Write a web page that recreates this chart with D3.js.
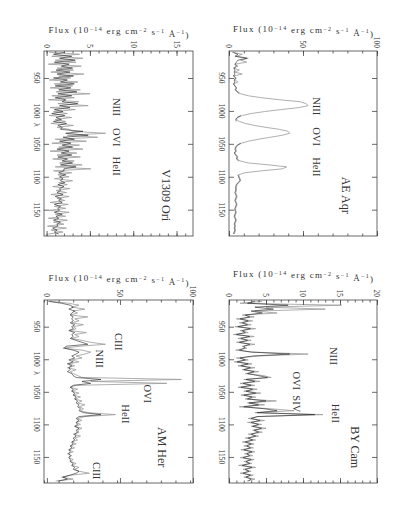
<!DOCTYPE html>
<html>
<head>
<meta charset="utf-8">
<script src="https://cdn.jsdelivr.net/npm/d3@7"></script>
<style>
  body { margin: 0; background: #fff; }
  text { font-family: "Liberation Serif", "DejaVu Serif", serif; fill: #333; }
  .frame { fill: none; stroke: #444; stroke-width: 0.8; }
  .axis path { display: none; }
  .axis line { stroke: #444; stroke-width: 0.8; }
  .gray { fill: none; stroke: #9a9a9a; stroke-width: 0.8; }
  .black { fill: none; stroke: #222; stroke-width: 0.6; }
</style>
</head>
<body>
<script>
//wavelength grid shared by all four spectra (Angstrom)
var wavelength = [
  911, 914, 917, 920, 923, 926, 929, 932, 935, 938,
  941, 944, 947, 950, 953, 956, 959, 962, 965, 968,
  971, 974, 977, 980, 983, 986, 989, 992, 995, 998,
  1001, 1004, 1007, 1010, 1013, 1016, 1019, 1022, 1025, 1028,
  1031, 1034, 1037, 1040, 1043, 1046, 1049, 1052, 1055, 1058,
  1061, 1064, 1067, 1070, 1073, 1076, 1079, 1082, 1085, 1088,
  1091, 1094, 1097, 1100, 1103, 1106, 1109, 1112, 1115, 1118,
  1121, 1124, 1127, 1130, 1133, 1136, 1139, 1142, 1145, 1148,
  1151, 1154, 1157, 1160, 1163, 1166, 1169, 1172, 1175, 1178,
  1181, 1184, 1187];

//V1309 Ori fluxes (10^-14 erg cm^-2 s^-1 A^-1)
var v1309Gray = [
  0.3, 3.8, 0.6, 4.2, 1.0, 3.4, 0.2, 4.0, 1.2, 3.1,
  0.5, 4.3, 1.4, 2.8, 0.3, 3.6, 0.9, 3.0, 0.4, 3.9,
  1.1, 5.0, 0.6, 3.2, 0.2, 3.7, 1.3, 4.8, 0.4, 3.3,
  0.8, 2.4, 0.3, 2.9, 1.0, 2.2, 0.5, 3.1, 1.2, 2.6,
  3.0, 6.8, 2.4, 5.9, 1.0, 4.6, 0.6, 3.8, 1.4, 4.2,
  0.4, 3.5, 1.2, 3.9, 0.7, 3.2, 1.5, 4.1, 1.0, 5.1,
  0.8, 2.9, 1.3, 2.6, 0.9, 3.0, 1.4, 2.4, 0.7, 2.7,
  1.1, 2.3, 0.5, 2.6, 1.2, 2.1, 0.4, 2.5, 0.9, 2.2,
  0.3, 2.6, 1.0, 2.2, 0.2, 2.4, 0.8, 2.0, 0.1, 2.3,
  0.5, 1.9, 0.2];
var v1309Black = [
  2.1, 0.8, 2.9, 1.5, 3.3, 0.9, 2.6, 1.7, 3.0, 1.1,
  2.7, 1.2, 3.1, 0.8, 2.4, 1.6, 3.2, 1.0, 2.8, 1.4,
  3.5, 1.3, 2.9, 1.0, 2.2, 1.8, 3.6, 1.5, 2.7, 0.9,
  1.9, 0.6, 2.1, 1.1, 1.7, 0.8, 2.3, 1.3, 1.8, 1.6,
  4.2, 2.2, 4.8, 1.9, 3.2, 1.5, 2.8, 1.8, 3.0, 1.2,
  2.6, 1.7, 2.9, 1.3, 2.4, 1.8, 3.0, 1.6, 3.4, 2.0,
  2.0, 1.4, 2.2, 1.5, 1.9, 1.6, 2.1, 1.3, 2.0, 1.5,
  1.6, 1.2, 1.9, 1.0, 1.7, 1.4, 1.8, 0.9, 1.6, 1.3,
  1.5, 0.9, 1.8, 1.1, 1.4, 0.8, 1.6, 1.2, 1.3, 0.7,
  1.2, 0.9, 1.4];

//AE Aqr fluxes
var aeAqrGray = [
  2, 9, 5, 13, 8, 12, 4, 6, 3, 7,
  4, 9, 3, 5, 4, 6, 3, 4, 5, 4,
  6, 8, 13, 22, 34, 48, 52, 53.5, 47, 35,
  24, 15, 9, 6, 5, 7, 11, 17, 25, 34,
  40, 41, 36, 28, 20, 13, 8.5, 6, 5, 4.5,
  5, 4, 5, 6, 5.5, 7.5, 13, 27, 39, 36,
  22, 10.6, 6.5, 7, 7.5, 8, 6.5, 5.5, 5, 5,
  5, 4.5, 5, 5.5, 5, 4.5, 5, 5.5, 5, 4.5,
  4.5, 5, 4.5, 4, 4.5, 5, 4.5, 4, 4.5, 4,
  4.5, 4, 3.5];
var aeAqrBlack = [
  3, 6, 4, 12, 6, 5, 4, 5, 3.5, 4,
  3.5, 4, 3, 4.5, 3.5, 4, 3, 4, 5, 4.5,
  5.5, 7, null, null, null, null, null, null, null, null,
  null, null, 8, 5.5, 4.5, 5, null, null, null, null,
  null, null, null, null, null, null, 8, 5.5, 4.5, 4,
  4.5, 3.5, 4.5, 5.5, 5, 6.5, null, null, null, null,
  null, null, 6, 6.5, 7, 7.5, 6, 5, 4.5, 4.5,
  4.5, 4, 4.5, 5, 4.5, 4, 4.5, 5, 4.5, 4,
  4, 4.5, 4, 3.5, 4, 4.5, 4, 3.5, 4, 3.5,
  4, 3.5, 3];

//AM Her fluxes
var amHerGray = [
  2, 15, 22, 17, 26, 18, 21, 16, 28, 19,
  22, 17, 25, 18, 20, 16, 27, 19, 22, 17,
  24, 30, 40, 22, 11, 24, 30, 26, 20, 24,
  17, 22, 15, 19, 14, 20, 16, 18, 21, 24,
  92, 30, 82, 20, 16, 21, 17, 22, 18, 23,
  19, 24, 21, 26, 22, 25, 23, 28, 47, 26,
  21, 24, 20, 23, 19, 24, 21, 22, 18, 23,
  19, 21, 17, 20, 16, 19, 15, 18, 14, 17,
  15, 18, 16, 20, 17, 22, 19, 22, 29, 16,
  10, 18, 6];
var amHerBlack = [
  1, 10, 16, 18, 15, 19, 17, 16, 18, 17,
  18, 16, 19, 17, 18, 15, 19, 17, 18, 16,
  20, 24, 28, 13, 12, 18, 22, 20, 17, 19,
  15, 18, 14, 17, 15, 16, 14, 17, 18, 20,
  37, 24, 30, 18, 16, 18, 17, 19, 18, 20,
  19, 21, 20, 22, 21, 23, 22, 25, 37, 22,
  20, 22, 20, 21, 19, 22, 20, 21, 19, 20,
  18, 19, 17, 18, 16, 17, 15, 16, 15, 16,
  15, 16, 16, 18, 17, 19, 18, 22, 20, 16,
  11, 14, 8];

//BY Cam fluxes
var byCamGray = [
  4.5, 1.5, 15.2, 5.0, 13.0, 3.5, 6.5, 1.8, 3.4, 1.0,
  3.2, 1.4, 3.0, 0.8, 3.6, 1.5, 2.6, 0.6, 3.4, 1.2,
  3.0, 1.0, 3.5, 1.8, 2.4, 0.9, 3.2, 10.7, 4.0, 1.0,
  2.6, 0.7, 3.1, 1.2, 3.5, 1.8, 4.0, 2.2, 4.6, 5.7,
  2.0, 4.2, 1.5, 3.5, 1.2, 3.8, 2.0, 4.3, 1.6, 3.6,
  2.2, 6.4, 2.5, 4.8, 1.4, 5.6, 8.8, 3.5, 12.7, 4.0,
  2.6, 4.8, 2.5, 4.4, 3.0, 5.0, 3.2, 4.5, 2.6, 4.0,
  2.2, 3.6, 1.8, 3.4, 2.0, 3.3, 1.6, 3.5, 2.1, 3.2,
  1.5, 3.4, 2.0, 3.1, 1.3, 3.6, 1.9, 3.0, 1.5, 3.3,
  2.0, 3.5, 2.4];
var byCamBlack = [
  3.5, 2.5, 8.0, 3.5, 6.0, 3.0, 4.5, 2.2, 2.8, 1.5,
  2.6, 1.8, 2.5, 1.2, 2.9, 1.8, 2.2, 1.0, 2.8, 1.6,
  2.5, 1.4, 2.8, 2.0, 2.1, 1.4, 3.0, 8.2, 3.2, 1.5,
  2.2, 1.1, 2.6, 1.6, 2.9, 2.0, 3.4, 2.5, 3.9, 5.2,
  2.3, 3.5, 1.9, 3.0, 1.6, 3.2, 2.3, 3.6, 2.0, 3.1,
  2.5, 5.0, 2.7, 4.0, 2.0, 4.8, 6.5, 3.8, 11.6, 3.8,
  3.0, 4.2, 3.0, 4.0, 3.2, 4.4, 3.4, 4.0, 3.0, 3.6,
  2.6, 3.2, 2.2, 3.0, 2.4, 2.9, 2.0, 3.1, 2.4, 2.8,
  1.9, 3.0, 2.3, 2.8, 1.8, 3.1, 2.2, 2.7, 1.9, 2.9,
  2.3, 3.0, 2.6];

//tick labels
var waveTicks = [950, 1000, 1050, 1100, 1150];
var v1309Ticks = [0, 5, 10, 15];
var aeAqrTicks = [0, 50, 100];
var amHerTicks = [0, 50, 100];
var byCamTicks = [0, 5, 10, 15, 20];

//line identifications: text, wavelength, flux where the text sits
var v1309Lines = ["NIII", "OVI", "HeII"];
var v1309LineWave = [994, 1040, 1084];
var v1309LineFlux = [8.1, 8.1, 8.1];
var aeAqrLines = ["NIII", "OVI", "HeII"];
var aeAqrLineWave = [993, 1039, 1085];
var aeAqrLineFlux = [59.5, 59.5, 59.5];
var amHerLines = ["CIII", "NIII", "OVI", "HeII", "CIII"];
var amHerLineWave = [973, 999, 1053, 1084, 1171];
var amHerLineFlux = [49, 36, 69, 54, 34];
var byCamLines = ["NIII", "OVI  SIV", "HeII"];
var byCamLineWave = [995, 1050, 1083];
var byCamLineFlux = [14.1, 9.1, 14.4];

var width = 414, height = 514;
var svg = d3.select("body").append("svg")
  .attr("width", width)
  .attr("height", height);

var panels = [
  {name: "V1309 Ori", gray: v1309Gray, black: v1309Black, domain: [-0.3, 16.9], ticks: v1309Ticks, minor: 1,
   lines: v1309Lines, lineWave: v1309LineWave, lineFlux: v1309LineFlux, nameFlux: 13.8, nameWave: 1128,
   x0: 44, x1: 193, y0: 51, y1: 236, titleY: 33, lambda: true},
  {name: "AE Aqr", gray: aeAqrGray, black: aeAqrBlack, domain: [0, 100], ticks: aeAqrTicks, minor: 10,
   lines: aeAqrLines, lineWave: aeAqrLineWave, lineFlux: aeAqrLineFlux, nameFlux: 79, nameWave: 1128,
   x0: 229, x1: 377, y0: 51, y1: 236, titleY: 32, lambda: false},
  {name: "AM Her", gray: amHerGray, black: amHerBlack, domain: [-2, 100], ticks: amHerTicks, minor: 10,
   lines: amHerLines, lineWave: amHerLineWave, lineFlux: amHerLineFlux, nameFlux: 78.6, nameWave: 1135,
   x0: 44, x1: 193, y0: 300, y1: 483, titleY: 281, lambda: true},
  {name: "BY Cam", gray: byCamGray, black: byCamBlack, domain: [0, 20], ticks: byCamTicks, minor: 1,
   lines: byCamLines, lineWave: byCamLineWave, lineFlux: byCamLineFlux, nameFlux: 17.1, nameWave: 1135,
   x0: 229, x1: 377, y0: 300, y1: 483, titleY: 277, lambda: false}
];

panels.forEach(drawPanel);

//draws one spectrum panel (figure rotated: flux runs left to right, wavelength downward)
function drawPanel(p, n){
  var x = d3.scaleLinear().domain(p.domain).range([p.x0, p.x1]);
  var y = d3.scaleLinear().domain([909, 1190]).range([p.y0, p.y1]);
  var g = svg.append("g");

  g.append("clipPath").attr("id", "clip" + n)
    .append("rect")
    .attr("x", p.x0).attr("y", p.y0)
    .attr("width", p.x1 - p.x0).attr("height", p.y1 - p.y0);

  //spectra: gray first, black on top
  var line = d3.line()
    .defined(function(d){ return d[1] != null; })
    .x(function(d){ return x(d[1]); })
    .y(function(d){ return y(d[0]); });
  g.append("path").attr("class", "gray")
    .attr("clip-path", "url(#clip" + n + ")")
    .attr("d", line(d3.zip(wavelength, p.gray)));
  g.append("path").attr("class", "black")
    .attr("clip-path", "url(#clip" + n + ")")
    .attr("d", line(d3.zip(wavelength, p.black)));

  //frame
  g.append("rect").attr("class", "frame")
    .attr("x", p.x0).attr("y", p.y0)
    .attr("width", p.x1 - p.x0).attr("height", p.y1 - p.y0);

  //flux axes, ticks pointing inward on top and bottom
  var minors = d3.range(Math.ceil(p.domain[0]), p.domain[1] + 0.001, p.minor);
  g.append("g").attr("class", "axis").attr("transform", "translate(0," + p.y0 + ")")
    .call(d3.axisTop(x).tickValues(minors).tickSize(-2.5).tickFormat(""));
  g.append("g").attr("class", "axis").attr("transform", "translate(0," + p.y0 + ")")
    .call(d3.axisTop(x).tickValues(p.ticks).tickSize(-5).tickFormat(""));
  g.append("g").attr("class", "axis").attr("transform", "translate(0," + p.y1 + ")")
    .call(d3.axisBottom(x).tickValues(minors).tickSize(-2.5).tickFormat(""));
  g.append("g").attr("class", "axis").attr("transform", "translate(0," + p.y1 + ")")
    .call(d3.axisBottom(x).tickValues(p.ticks).tickSize(-5).tickFormat(""));

  //wavelength axes on both sides
  g.append("g").attr("class", "axis").attr("transform", "translate(" + p.x0 + ",0)")
    .call(d3.axisLeft(y).tickValues(waveTicks).tickSize(-5).tickFormat(""));
  g.append("g").attr("class", "axis").attr("transform", "translate(" + p.x1 + ",0)")
    .call(d3.axisRight(y).tickValues(waveTicks).tickSize(-5).tickFormat(""));

  //flux tick labels, rotated
  g.selectAll(".fluxLabel")
    .data(p.ticks)
    .enter()
    .append("text")
    .attr("class", "fluxLabel")
    .attr("transform", function(d){ return "translate(" + x(d) + "," + (p.y0 - 3) + ") rotate(90)"; })
    .attr("text-anchor", "end")
    .attr("dy", "0.35em")
    .style("font-size", "7.5px")
    .text(function(d){ return d; });

  //wavelength tick labels, rotated
  g.selectAll(".waveLabel")
    .data(waveTicks)
    .enter()
    .append("text")
    .attr("class", "waveLabel")
    .attr("transform", function(d){ return "translate(" + (p.x0 - 10) + "," + y(d) + ") rotate(90)"; })
    .attr("text-anchor", "middle")
    .style("font-size", "7.5px")
    .text(function(d){ return d; });

  if (p.lambda){
    g.append("text")
      .attr("transform", "translate(" + (p.x0 - 10) + "," + y(1021) + ") rotate(90)")
      .attr("text-anchor", "middle")
      .style("font-size", "7.5px")
      .text("λ");
  }

  //flux title
  var title = g.append("text")
    .attr("x", (p.x0 + p.x1) / 2)
    .attr("y", p.titleY)
    .attr("text-anchor", "middle")
    .attr("textLength", 140)
    .attr("lengthAdjust", "spacing")
    .style("font-size", "9px");
  title.append("tspan").text("Flux (10");
  title.append("tspan").attr("dy", "-0.4em").style("font-size", "6px").text("−14");
  title.append("tspan").attr("dy", "0.4em").text(" erg cm");
  title.append("tspan").attr("dy", "-0.4em").style("font-size", "6px").text("−2");
  title.append("tspan").attr("dy", "0.4em").text(" s");
  title.append("tspan").attr("dy", "-0.4em").style("font-size", "6px").text("−1");
  title.append("tspan").attr("dy", "0.4em").text(" Å");
  title.append("tspan").attr("dy", "-0.4em").style("font-size", "6px").text("−1");
  title.append("tspan").attr("dy", "0.4em").text(")");

  //line identifications
  g.selectAll(".lineId")
    .data(p.lines)
    .enter()
    .append("text")
    .attr("class", "lineId")
    .attr("transform", function(d, i){
      return "translate(" + x(p.lineFlux[i]) + "," + y(p.lineWave[i]) + ") rotate(90)";
    })
    .attr("text-anchor", "middle")
    .attr("dy", "0.35em")
    .style("font-size", "10.5px")
    .style("white-space", "pre")
    .text(function(d){ return d; });

  //star name
  g.append("text")
    .attr("transform", "translate(" + x(p.nameFlux) + "," + y(p.nameWave) + ") rotate(90)")
    .attr("text-anchor", "middle")
    .attr("dy", "0.35em")
    .style("font-size", "12px")
    .text(p.name);
}
</script>
</body>
</html>
